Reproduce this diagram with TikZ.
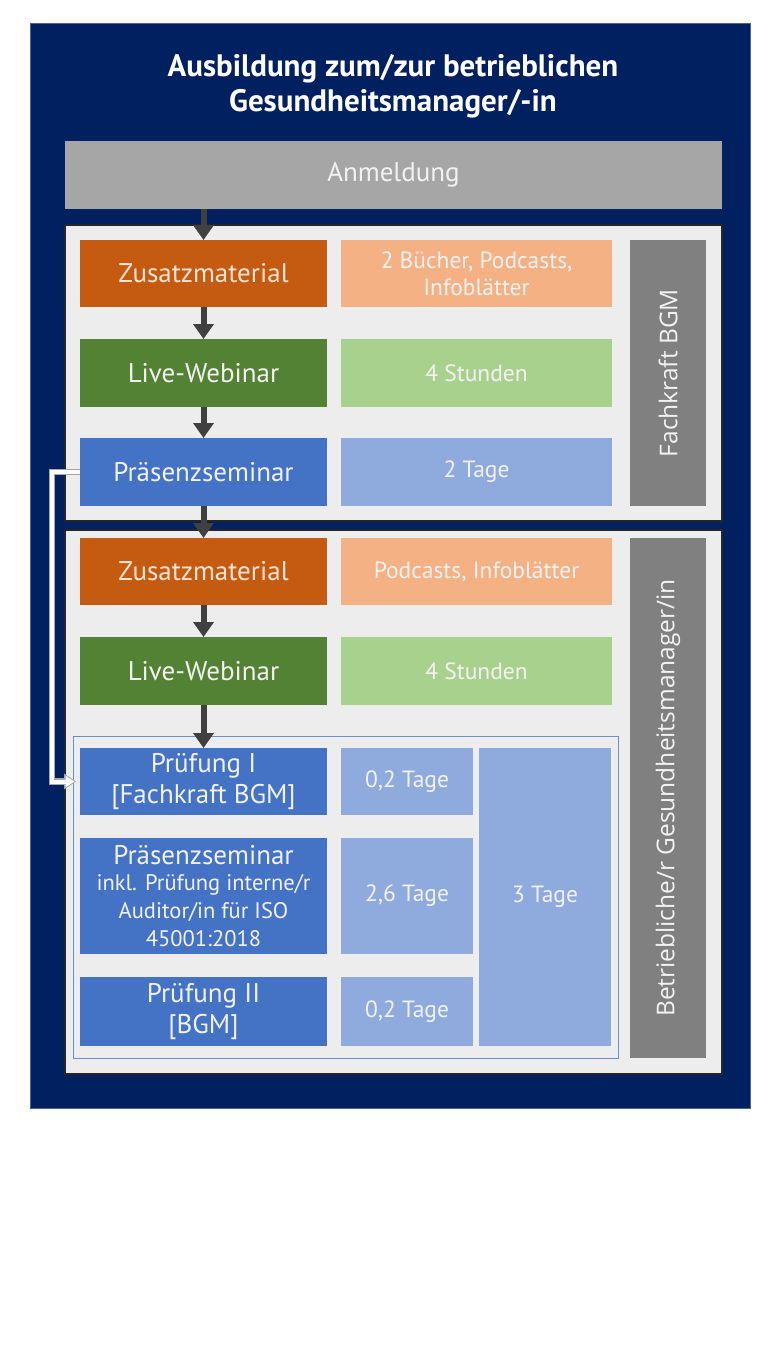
\documentclass[tikz,border=0pt]{standalone}
\usepackage{fontspec}
\setmainfont{PT Sans}
\newfontfamily\vfont{Open Sans}
\usetikzlibrary{arrows.meta}
\definecolor{navy}{HTML}{002060}
\definecolor{anmgray}{HTML}{A6A6A6}
\definecolor{panelgray}{HTML}{EDEDED}
\definecolor{orng}{HTML}{C55A11}
\definecolor{peach}{HTML}{F4B183}
\definecolor{grn}{HTML}{548235}
\definecolor{lgrn}{HTML}{A9D18E}
\definecolor{blu}{HTML}{4472C4}
\definecolor{lblu}{HTML}{8FAADC}
\definecolor{vgray}{HTML}{808080}
\definecolor{arrgray}{HTML}{404040}
\definecolor{txtw}{HTML}{F2F2F2}
\definecolor{cream}{HTML}{FBE5D6}
\begin{document}
\begin{tikzpicture}[x=1pt,y=-1pt,
  box/.style={rectangle,inner sep=0pt,outer sep=0pt,align=center,text=txtw},
  lbl/.style={box,font=\fontsize{27}{31}\selectfont},
  val/.style={box,font=\fontsize{23.5}{27}\selectfont},
  vlbl/.style={box,fill=vgray,font=\vfont\fontsize{24.5}{28}\selectfont},
  panel/.style={rectangle,inner sep=0pt,outer sep=0pt,fill=panelgray,draw=black!85,line width=1.5pt},
  flow/.style={draw=arrgray,line width=6pt,-{Triangle[width=20pt,length=15pt]}},
  loopedge/.style={draw=black!35,line width=6.5pt,-{Triangle[width=15pt,length=12pt]}},
  loop/.style={draw=white,line width=4pt,-{Triangle[width=11pt,length=9pt]}}
]
\useasboundingbox (0,0) rectangle (770,1370);
\fill[white] (0,0) rectangle (770,1370);
\node[rectangle,fill=navy,draw=navy!70!white,line width=0.8pt,minimum width=720,minimum height=1085,inner sep=0pt] (outer) at (390,565.5) {};
\node[box,text=white,font=\bfseries\fontsize{31}{35}\selectfont] (title) at (393,86) {Ausbildung zum/zur betrieblichen\\Gesundheitsmanager/-in};
\node[lbl,fill=anmgray,minimum width=657,minimum height=68] (anm) at (393.5,175) {Anmeldung};
% panel 1
\node[panel,minimum width=657,minimum height=296] (pan1) at (393.5,373) {};
\node[lbl,fill=orng,text=cream,minimum width=247,minimum height=67] (z1) at (203.5,273.5) {Zusatzmaterial};
\node[val,fill=peach,minimum width=271,minimum height=67] (z1r) at (476.5,273.5) {2 Bücher, Podcasts,\\Infoblätter};
\node[lbl,fill=grn,minimum width=247,minimum height=68] (w1) at (203.5,373) {Live-Webinar};
\node[val,fill=lgrn,minimum width=271,minimum height=68] (w1r) at (476.5,373) {4 Stunden};
\node[lbl,fill=blu,minimum width=247,minimum height=68] (p1) at (203.5,472) {Präsenzseminar};
\node[val,fill=lblu,minimum width=271,minimum height=68] (p1r) at (476.5,472) {2 Tage};
\node[vlbl,minimum width=266,minimum height=76,rotate=90] (fk) at (668,373) {Fachkraft BGM};
% panel 2
\node[panel,minimum width=657,minimum height=544] (pan2) at (393.5,802) {};
\node[lbl,fill=orng,text=cream,minimum width=247,minimum height=67] (z2) at (203.5,571.5) {Zusatzmaterial};
\node[val,fill=peach,minimum width=271,minimum height=67] (z2r) at (476.5,571.5) {Podcasts, Infoblätter};
\node[lbl,fill=grn,minimum width=247,minimum height=68] (w2) at (203.5,671) {Live-Webinar};
\node[val,fill=lgrn,minimum width=271,minimum height=68] (w2r) at (476.5,671) {4 Stunden};
\node[rectangle,draw=blu!80!white,line width=0.8pt,minimum width=545,minimum height=322,inner sep=0pt] (frame) at (345.5,897) {};
\node[lbl,fill=blu,minimum width=247,minimum height=67] (pr1) at (203.5,781.5) {Prüfung I\\{}{[}Fachkraft BGM{]}};
\node[val,fill=lblu,minimum width=132,minimum height=67] (t1) at (407,781.5) {0,2 Tage};
\node[lbl,fill=blu,minimum width=247,minimum height=116] (ps2) at (203.5,896) {Präsenzseminar\\[-5pt]{\fontsize{22.5}{24}\selectfont inkl. Prüfung interne/r}\\[-3pt]{\fontsize{22.5}{24}\selectfont Auditor/in für ISO}\\[-3pt]{\fontsize{22.5}{24}\selectfont 45001:2018}};
\node[val,fill=lblu,minimum width=132,minimum height=116] (t2) at (407,896) {2,6 Tage};
\node[lbl,fill=blu,minimum width=247,minimum height=69] (pr2) at (203.5,1011.5) {Prüfung II\\{}{[}BGM{]}};
\node[val,fill=lblu,minimum width=132,minimum height=69] (t4) at (407,1011.5) {0,2 Tage};
\node[val,fill=lblu,minimum width=132,minimum height=298] (t3) at (545,897) {3 Tage};
\node[vlbl,minimum width=520,minimum height=76,rotate=90] (bgm) at (668,798) {Betriebliche/r Gesundheitsmanager/in};
% arrows
\draw[flow] (z1.north |- anm.south) -- (z1.north);
\draw[flow] (z1.south) -- (w1.north);
\draw[flow] (w1.south) -- (p1.north);
\draw[flow] (p1.south) -- (z2.north);
\draw[flow] (z2.south) -- (w2.north);
\draw[flow] (w2.south) -- (pr1.north);
\draw[loopedge,shorten >=4pt] (p1.west) -- ++(-28,0) |- (pr1.west);
\draw[loop,shorten >=5.5pt] (p1.west) -- ++(-28,0) |- (pr1.west);
\end{tikzpicture}
\end{document}
